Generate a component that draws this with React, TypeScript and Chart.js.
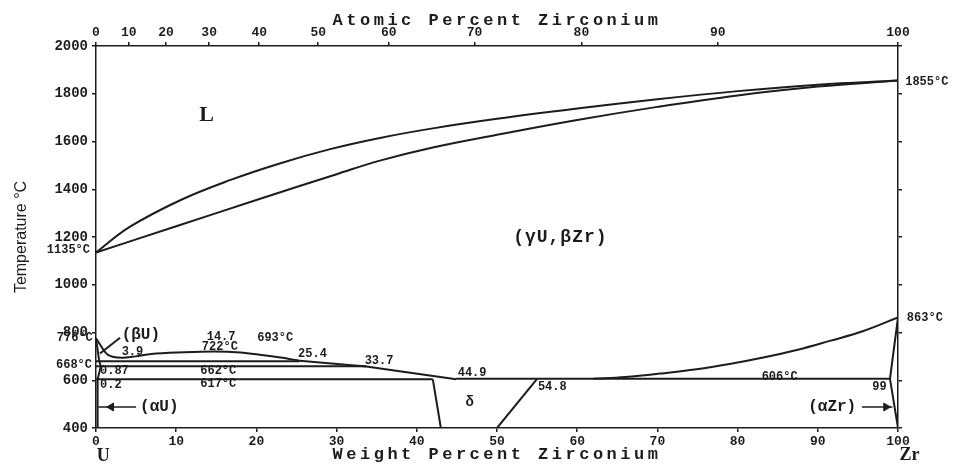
import React, { useEffect, useRef } from 'react';
import { Chart, registerables } from 'chart.js';

Chart.register(...registerables);

// ---- data (weight % Zr, temperature °C) ----
const liquidusWt = [0, 4.2, 10.5, 16.7, 22.9, 29.2, 35.4, 42, 50, 60, 70, 80, 90, 100];
const liquidusT = [1135, 1242, 1354, 1438, 1508, 1568, 1615, 1655, 1695, 1738, 1777, 1811, 1838, 1855];

const solidusWt = [0, 10, 20, 30, 35.4, 42, 50, 60, 70, 80, 90, 100];
const solidusT = [1135, 1245, 1355, 1463, 1520, 1575, 1628, 1690, 1745, 1793, 1830, 1855];

const gammaDomeWt = [0, 1.5, 3.2, 4.9, 6.9, 11, 14.7, 18, 20.4, 23, 25.4];
const gammaDomeT = [776, 706, 694, 700, 710, 717, 720, 716, 707, 695, 682];

const monotectoidWt = [0, 25.4];
const monotectoidT = [680, 680];

const gamma2Wt = [25.4, 33.7, 44.9];
const gamma2T = [682, 658, 604];

const eutectoid662Wt = [0, 33.7];
const eutectoid662T = [659, 659];

const eutectoid617Wt = [0, 42];
const eutectoid617T = [604, 604];

const eutectoid606Wt = [44.9, 99];
const eutectoid606T = [606, 606];

const deltaLeftWt = [42, 43];
const deltaLeftT = [604, 400];

const deltaRightWt = [55, 50];
const deltaRightT = [606, 400];

const betaZrSolvusWt = [62, 66, 70.3, 74.9, 79, 83.2, 87.5, 91.5, 95.6, 100];
const betaZrSolvusT = [606, 614, 628, 646, 668, 695, 728, 765, 805, 863];

const alphaZrWt = [100, 99, 100];
const alphaZrT = [863, 606, 400];

const alphaUWt = [0.2, 0.2, 0.6, 0.4, 0];
const alphaUT = [400, 604, 659, 680, 776];

const betaUPointerWt = [3.0, 0.5];
const betaUPointerT = [778, 712];

const alphaUArrowWt = [0.3, 5.0];
const alphaUArrowT = [488, 488];
const alphaZrArrowWt = [95.5, 99.3];
const alphaZrArrowT = [488, 488];

const atomicTicks = [0, 10, 20, 30, 40, 50, 60, 70, 80, 90, 100];
const weightTicks = [0, 10, 20, 30, 40, 50, 60, 70, 80, 90, 100];
const tempTicks = [400, 600, 800, 1000, 1200, 1400, 1600, 1800, 2000];

const U_MASS = 238.029;
const ZR_MASS = 91.224;
const atToWt = (a: number) => (100 * a * ZR_MASS) / (a * ZR_MASS + (100 - a) * U_MASS);

const pts = (xs: number[], ys: number[]) => xs.map((x, i) => ({ x, y: ys[i] }));

const INK = '#1c1c1c';
const MONO = '"Liberation Mono", "DejaVu Sans Mono", monospace';

type Lbl = { text: string; x: number; y: number; align: CanvasTextAlign; font: string; spacing?: number };

const labels: Lbl[] = [
  { text: 'L', x: 13.8, y: 1710, align: 'center', font: 'bold 22px "Liberation Serif"' },
  { text: '(γU,βZr)', x: 57.9, y: 1199, align: 'center', font: `bold 18px ${MONO}`, spacing: 1 },
  { text: '1135°C', x: -0.75, y: 1145, align: 'right', font: `bold 12px ${MONO}` },
  { text: '1855°C', x: 100.9, y: 1850, align: 'left', font: `bold 12px ${MONO}` },
  { text: '863°C', x: 101.1, y: 860, align: 'left', font: `bold 12px ${MONO}` },
  { text: '776°C', x: -0.4, y: 777, align: 'right', font: `bold 12px ${MONO}` },
  { text: '668°C', x: -0.5, y: 664, align: 'right', font: `bold 12px ${MONO}` },
  { text: '(βU)', x: 3.2, y: 789, align: 'left', font: `bold 16px ${MONO}` },
  { text: '3.9', x: 3.2, y: 718, align: 'left', font: `bold 12px ${MONO}` },
  { text: '14.7', x: 13.8, y: 781, align: 'left', font: `bold 12px ${MONO}` },
  { text: '722°C', x: 13.2, y: 739, align: 'left', font: `bold 12px ${MONO}` },
  { text: '693°C', x: 20.1, y: 777, align: 'left', font: `bold 12px ${MONO}` },
  { text: '25.4', x: 25.2, y: 710, align: 'left', font: `bold 12px ${MONO}` },
  { text: '33.7', x: 33.5, y: 680, align: 'left', font: `bold 12px ${MONO}` },
  { text: '44.9', x: 45.1, y: 631, align: 'left', font: `bold 12px ${MONO}` },
  { text: '54.8', x: 55.1, y: 572, align: 'left', font: `bold 12px ${MONO}` },
  { text: 'δ', x: 46.6, y: 505, align: 'center', font: `bold 14px ${MONO}` },
  { text: '0.87', x: 0.5, y: 639, align: 'left', font: `bold 12px ${MONO}` },
  { text: '662°C', x: 13.0, y: 639, align: 'left', font: `bold 12px ${MONO}` },
  { text: '0.2', x: 0.5, y: 580, align: 'left', font: `bold 12px ${MONO}` },
  { text: '617°C', x: 13.0, y: 586, align: 'left', font: `bold 12px ${MONO}` },
  { text: '606°C', x: 83.0, y: 613, align: 'left', font: `bold 12px ${MONO}` },
  { text: '99', x: 96.8, y: 572, align: 'left', font: `bold 12px ${MONO}` },
  { text: '(αU)', x: 5.5, y: 490, align: 'left', font: `bold 16px ${MONO}` },
  { text: '(αZr)', x: 88.8, y: 488, align: 'left', font: `bold 16px ${MONO}` },
  { text: 'U', x: 0.1, y: 283, align: 'left', font: 'bold 18px "Liberation Serif"' },
  { text: 'Zr', x: 100.2, y: 285, align: 'left', font: 'bold 18px "Liberation Serif"' },
];

const annotationPlugin = {
  id: 'annotations',
  afterDraw(chart: any) {
    const { ctx, scales, chartArea: ca } = chart;
    const xs = scales.x;
    const ys = scales.y;
    ctx.save();
    ctx.fillStyle = INK;
    ctx.textBaseline = 'middle';
    labels.forEach((l) => {
      ctx.font = l.font;
      ctx.textAlign = l.align;
      (ctx as any).letterSpacing = `${l.spacing ?? 0}px`;
      ctx.fillText(l.text, xs.getPixelForValue(l.x), ys.getPixelForValue(l.y));
    });
    // axis titles
    ctx.font = `bold 17px ${MONO}`;
    (ctx as any).letterSpacing = '3.5px';
    ctx.textAlign = 'center';
    const cx = (ca.left + ca.right) / 2;
    ctx.fillText('Atomic Percent Zirconium', cx, ca.top - 25);
    ctx.fillText('Weight Percent Zirconium', cx, ca.bottom + 27);
    (ctx as any).letterSpacing = '0px';
    ctx.translate(22, (ca.top + ca.bottom) / 2);
    ctx.rotate(-Math.PI / 2);
    ctx.font = '16px "Liberation Sans"';
    ctx.fillText('Temperature °C', 0, 0);
    ctx.restore();
  },
};

const lineDs = (xs: number[], ys: number[], smooth: '' | 'spline' | 'monotone' = '') => ({
  data: pts(xs, ys),
  showLine: true,
  borderColor: INK,
  backgroundColor: INK,
  borderWidth: 2,
  pointRadius: 0,
  fill: false,
  tension: smooth === 'spline' ? 0.4 : 0,
  cubicInterpolationMode: smooth === 'monotone' ? 'monotone' : 'default',
});

const arrowHead = (x: number, y: number, rotation: number) => ({
  data: [{ x, y }],
  showLine: false,
  pointStyle: 'triangle',
  pointRadius: 4.5,
  rotation,
  backgroundColor: INK,
  borderColor: INK,
  borderWidth: 1,
});

const axisCommon = {
  border: { display: true, dash: [2, 2], color: INK, width: 1.5 },
  grid: { drawOnChartArea: false, drawTicks: true, tickLength: 4, color: INK, lineWidth: 1.5 },
};

export default function App() {
  const ref = useRef<HTMLCanvasElement | null>(null);

  useEffect(() => {
    if (!ref.current) return;
    const chart = new Chart(ref.current, {
      type: 'scatter',
      data: {
        datasets: [
          lineDs(liquidusWt, liquidusT, 'spline'),
          lineDs(solidusWt, solidusT, 'spline'),
          lineDs(gammaDomeWt, gammaDomeT, 'monotone'),
          lineDs(monotectoidWt, monotectoidT),
          lineDs(gamma2Wt, gamma2T),
          lineDs(eutectoid662Wt, eutectoid662T),
          lineDs(eutectoid617Wt, eutectoid617T),
          lineDs(eutectoid606Wt, eutectoid606T),
          lineDs(deltaLeftWt, deltaLeftT),
          lineDs(deltaRightWt, deltaRightT),
          lineDs(betaZrSolvusWt, betaZrSolvusT, 'spline'),
          lineDs(alphaZrWt, alphaZrT),
          lineDs(alphaUWt, alphaUT),
          lineDs(betaUPointerWt, betaUPointerT),
          { ...lineDs(alphaUArrowWt, alphaUArrowT), borderWidth: 1.5 },
          { ...lineDs(alphaZrArrowWt, alphaZrArrowT), borderWidth: 1.5 },
          arrowHead(1.9, 488, -90),
          arrowHead(98.5, 488, 90),
        ] as any,
      },
      options: {
        animation: false,
        responsive: false,
        maintainAspectRatio: false,
        layout: { padding: 0 },
        plugins: { legend: { display: false }, tooltip: { enabled: false } },
        scales: {
          x: {
            type: 'linear',
            position: 'bottom',
            min: 0,
            max: 100,
            afterBuildTicks: (s: any) => {
              s.ticks = weightTicks.map((v) => ({ value: v }));
            },
            afterFit: (s: any) => {
              s.height = 36;
            },
            ticks: {
              autoSkip: false,
              maxRotation: 0,
              padding: 2,
              color: INK,
              font: { family: MONO, size: 13, weight: 'bold' },
              callback: (_v: any, i: number) => String(weightTicks[i]),
            },
            ...axisCommon,
          },
          x2: {
            type: 'linear',
            position: 'top',
            min: 0,
            max: 100,
            afterBuildTicks: (s: any) => {
              s.ticks = atomicTicks.map((a) => ({ value: atToWt(a) }));
            },
            afterFit: (s: any) => {
              s.height = 46;
            },
            ticks: {
              autoSkip: false,
              maxRotation: 0,
              padding: 1,
              color: INK,
              font: { family: MONO, size: 13, weight: 'bold' },
              callback: (_v: any, i: number) => String(atomicTicks[i]),
            },
            ...axisCommon,
          },
          y: {
            type: 'linear',
            position: 'left',
            min: 400,
            max: 2000,
            afterBuildTicks: (s: any) => {
              s.ticks = tempTicks.map((v) => ({ value: v }));
            },
            afterFit: (s: any) => {
              s.width = 96;
            },
            ticks: {
              padding: 4,
              color: INK,
              font: { family: MONO, size: 14, weight: 'bold' },
              callback: (_v: any, i: number) => String(tempTicks[i]),
            },
            ...axisCommon,
          },
          y2: {
            type: 'linear',
            position: 'right',
            min: 400,
            max: 2000,
            afterBuildTicks: (s: any) => {
              s.ticks = tempTicks.map((v) => ({ value: v }));
            },
            afterFit: (s: any) => {
              s.width = 59;
            },
            ticks: { display: false },
            ...axisCommon,
          },
        },
      } as any,
      plugins: [annotationPlugin],
    });
    return () => chart.destroy();
  }, []);

  return (
    <div style={{ position: 'absolute', left: 0, top: 0, width: 957, height: 464, background: '#fff' }}>
      <canvas ref={ref} width={957} height={464} />
    </div>
  );
}
